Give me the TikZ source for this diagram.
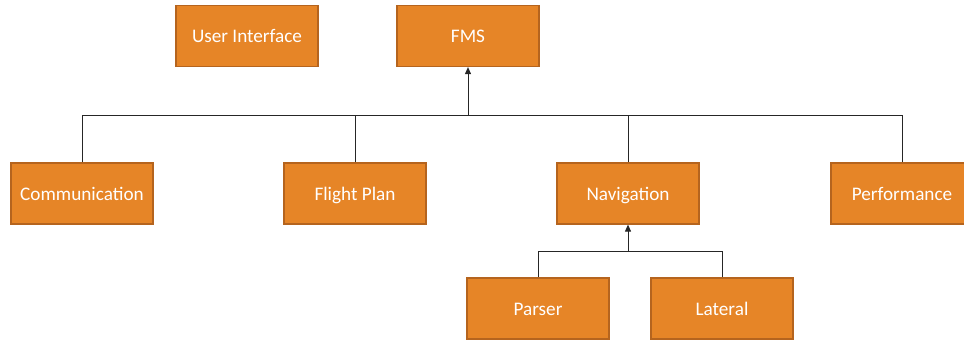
\documentclass[tikz,border=0pt]{standalone}
\usepackage{fontspec}
\setmainfont{Carlito}
\usetikzlibrary{arrows.meta}
\definecolor{boxfill}{HTML}{E68527}
\definecolor{boxline}{HTML}{B5641E}
\begin{document}
\begin{tikzpicture}[x=1pt,y=-1pt,
  blk/.style={draw=boxline,fill=boxfill,line width=1.2pt,minimum width=142pt,minimum height=61pt,inner sep=0pt,text height=17.5pt,text depth=4pt,text=white,font=\fontsize{19.2}{23}\selectfont},
  conn/.style={draw=black!85,line width=1pt},
  arr/.style={conn,-{Triangle[length=7pt,width=6pt]}}]
\useasboundingbox (0,0) rectangle (964,341);
\node[blk] (ui) at (247,36) {User Interface};
\node[blk] (fms) at (468,36) {FMS};
\node[blk] (comm) at (82,193.5) {Communication};
\node[blk] (fp) at (355,193.5) {Flight Plan};
\node[blk] (nav) at (628,193.5) {Navigation};
\node[blk] (perf) at (902,193.5) {Performance};
\node[blk] (par) at (538,308.5) {Parser};
\node[blk] (lat) at (722,308.5) {Lateral};
\coordinate (bus) at (468,115);
\coordinate (bus2) at (628,251);
\draw[conn] (comm.north) |- (bus);
\draw[conn] (perf.north) |- (bus);
\draw[conn] (fp.north) -- (fp.north |- bus);
\draw[conn] (nav.north) -- (nav.north |- bus);
\draw[arr] (bus) -- (fms.south);
\draw[conn] (par.north) |- (bus2);
\draw[conn] (lat.north) |- (bus2);
\draw[arr] (bus2) -- (nav.south);
\end{tikzpicture}
\end{document}
